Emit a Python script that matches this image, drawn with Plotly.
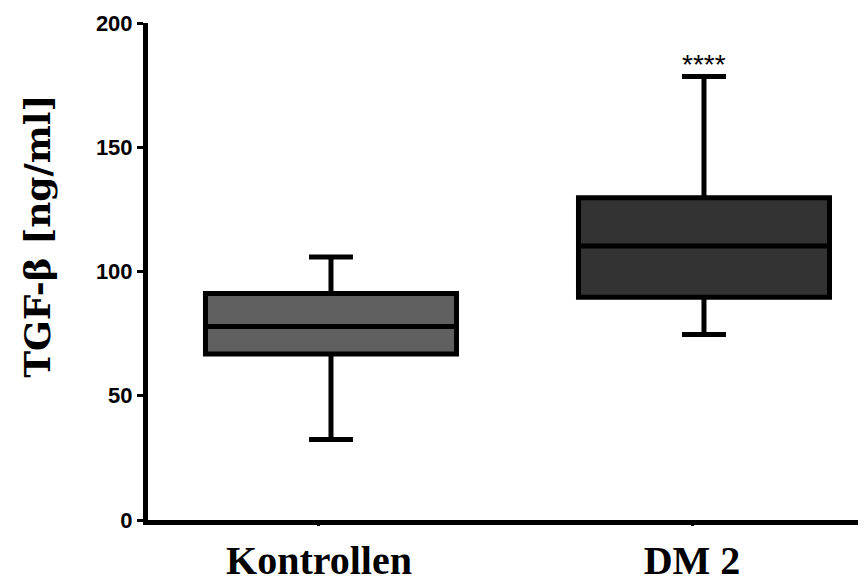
import plotly.graph_objects as go

categories = ["Kontrollen", "DM 2"]
lower = [32.4, 74.6]
q1 = [66.8, 89.6]
median = [77.9, 110.3]
q3 = [91.1, 129.7]
upper = [105.8, 178.5]
fills = ["#606060", "#333333"]
y_ticks = [0, 50, 100, 150, 200]
significance = ["", "****"]

fig = go.Figure()
for i, cat in enumerate(categories):
    fig.add_trace(go.Box(
        x=[cat], q1=[q1[i]], median=[median[i]], q3=[q3[i]],
        lowerfence=[lower[i]], upperfence=[upper[i]],
        fillcolor=fills[i], line=dict(color="black", width=5),
        whiskerwidth=0.175, boxpoints=False, showlegend=False,
        hoverinfo="skip",
    ))

# invisible trace to carry category tick labels on overlay axis
fig.add_trace(go.Scatter(x=categories, y=[0, 0], xaxis="x2", mode="markers",
                         marker=dict(opacity=0), showlegend=False, hoverinfo="skip"))

for i, cat in enumerate(categories):
    if significance[i]:
        fig.add_annotation(x=cat, y=upper[i], text=significance[i], showarrow=False,
                           yanchor="bottom", yshift=-6,
                           font=dict(family="Liberation Sans, Arial", size=28, color="black"))

fig.add_annotation(xref="paper", yref="paper", x=0, y=0.57, xshift=-111,
                   text="<b>TGF-β [ng/ml]</b>", textangle=-90, showarrow=False,
                   xanchor="center", yanchor="middle",
                   font=dict(family="DejaVu Serif", size=36, color="black"))

fig.update_layout(
    width=866, height=584,
    margin=dict(l=140, r=0, t=15, b=72),
    paper_bgcolor="white", plot_bgcolor="white",
    boxmode="overlay", boxgap=0.327, boxgroupgap=0,
    xaxis=dict(type="category", categoryorder="array", categoryarray=categories,
               range=[-0.4906, 1.4558], showline=True, linewidth=5, linecolor="black",
               showticklabels=False, ticks="", showgrid=False, zeroline=False,
               automargin=False),
    xaxis2=dict(type="category", categoryorder="array", categoryarray=categories,
                overlaying="x", side="bottom", anchor="y",
                range=[-0.4584, 1.4879], showline=False, showgrid=False, zeroline=False,
                ticks="outside", ticklen=5, tickwidth=3, tickcolor="black",
                tickfont=dict(family="Liberation Serif", size=40, color="black",
                              weight="bold"),
                automargin=False),
    yaxis=dict(range=[0, 200], tickvals=y_ticks, showline=True, linewidth=5,
               linecolor="black", ticks="outside", ticklen=6, tickwidth=3,
               tickcolor="black", showgrid=False, zeroline=False,
               tickfont=dict(family="Liberation Sans, Arial", size=22, color="black",
                             weight="bold"),
               automargin=False),
)

fig.write_html("out.html")
